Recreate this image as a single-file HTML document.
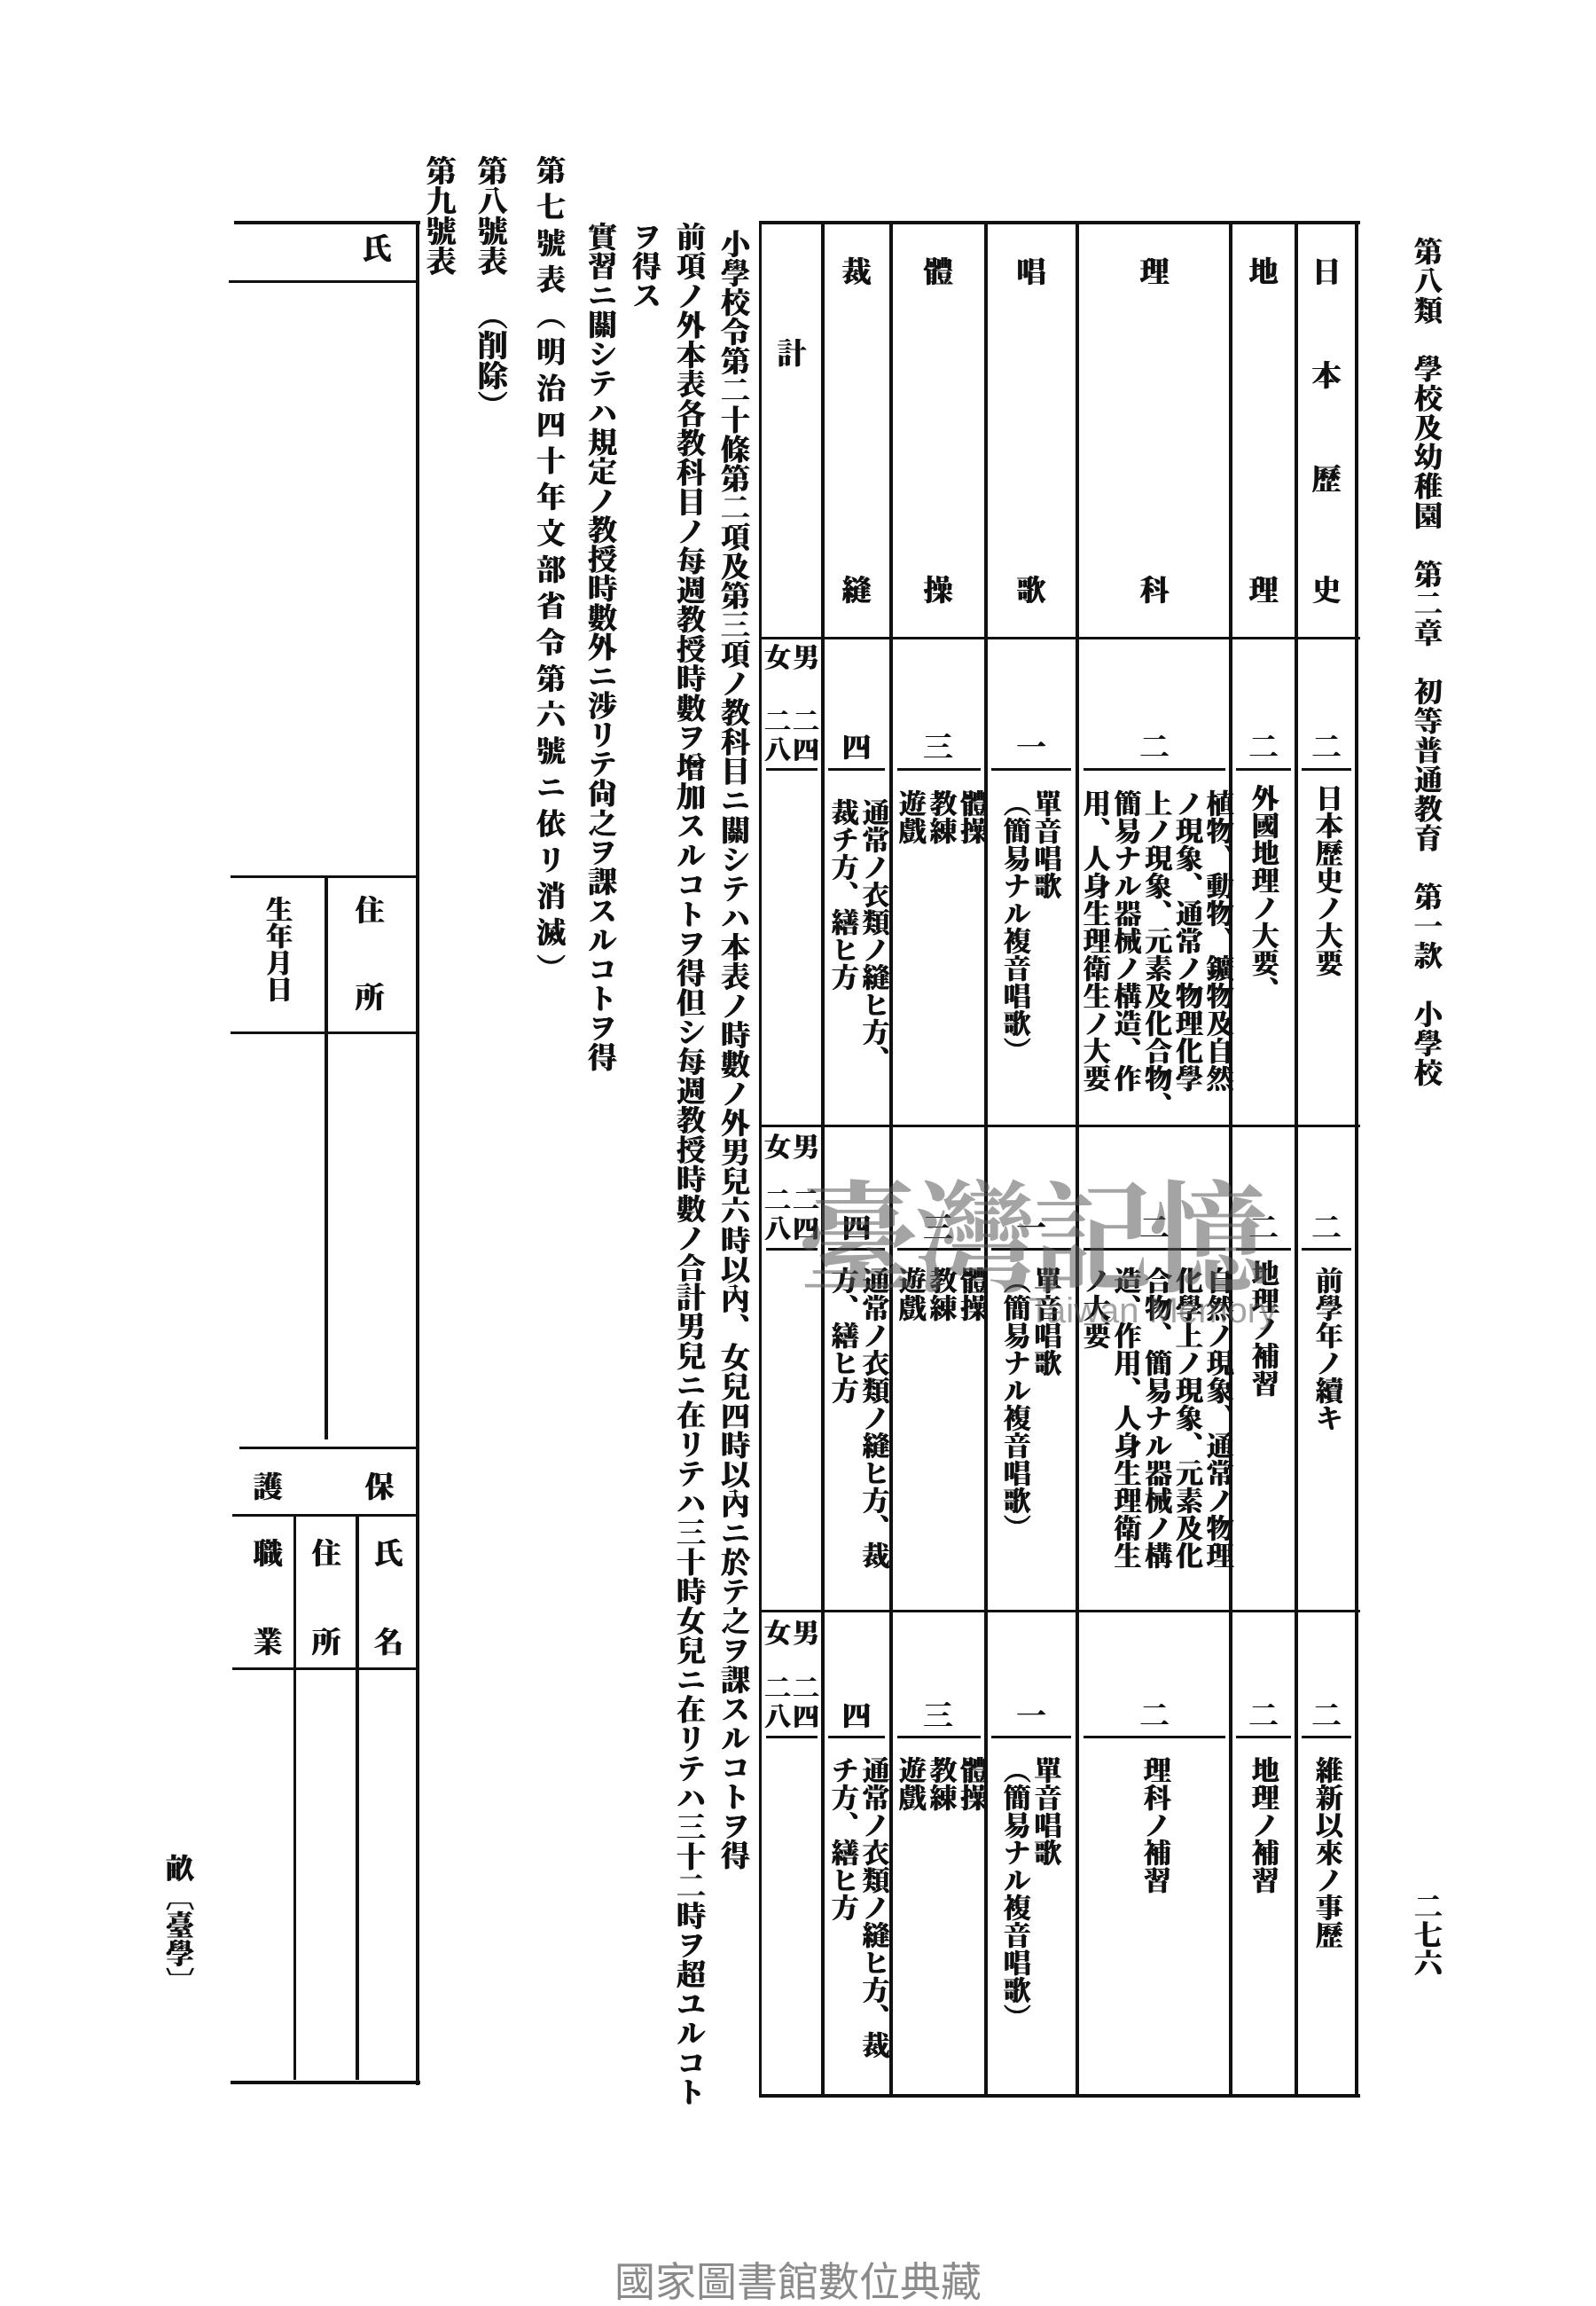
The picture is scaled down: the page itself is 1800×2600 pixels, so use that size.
<!DOCTYPE html>
<html><head><meta charset="utf-8"><style>
html,body{margin:0;padding:0;background:#fff;}
body{width:1800px;height:2600px;position:relative;overflow:hidden;font-family:"Liberation Serif","Noto Serif CJK JP","Noto Serif CJK SC",serif;color:#111;}
.v{position:absolute;writing-mode:vertical-rl;font-weight:700;font-size:31px;line-height:1.12;white-space:nowrap;text-shadow:0.7px 0 0 #111,-0.5px 0 0 #111;}
.j{text-align:justify;text-align-last:justify;white-space:normal;}
.h{position:absolute;background:#111;height:4px;}
.w{position:absolute;background:#111;width:4px;}
.c{position:absolute;font-weight:700;font-size:33px;line-height:1;width:40px;text-align:center;text-shadow:0.7px 0 0 #111,-0.5px 0 0 #111;}
</style></head><body>

<div class="v j" style="left:1590px;top:267px;height:958px;font-size:32px;">第八類　學校及幼稚園　第二章　初等普通教育　第一款　小學校</div>
<div class="v" style="left:1590px;top:2133px;font-size:32px;">二七六</div>

<div class="h" style="left:856px;top:249px;width:678px;"></div>
<div class="h" style="left:856px;top:718px;width:678px;height:3px;"></div>
<div class="h" style="left:856px;top:1268px;width:678px;height:3px;"></div>
<div class="h" style="left:856px;top:1815px;width:678px;height:3px;"></div>
<div class="h" style="left:856px;top:2361px;width:678px;"></div>
<div class="w" style="left:856px;top:249px;height:2116px;width:3px;"></div>
<div class="w" style="left:926px;top:249px;height:2116px;"></div>
<div class="w" style="left:1003px;top:249px;height:2116px;"></div>
<div class="w" style="left:1110px;top:249px;height:2116px;"></div>
<div class="w" style="left:1213px;top:249px;height:2116px;"></div>
<div class="w" style="left:1386px;top:249px;height:2116px;"></div>
<div class="w" style="left:1460px;top:249px;height:2116px;"></div>
<div class="w" style="left:1528px;top:249px;height:2116px;"></div>

<div class="h" style="left:864px;top:866px;width:58px;height:3px;"></div>
<div class="h" style="left:934px;top:866px;width:64px;height:3px;"></div>
<div class="h" style="left:1012px;top:866px;width:94px;height:3px;"></div>
<div class="h" style="left:1118px;top:866px;width:90px;height:3px;"></div>
<div class="h" style="left:1222px;top:866px;width:160px;height:3px;"></div>
<div class="h" style="left:1394px;top:866px;width:62px;height:3px;"></div>
<div class="h" style="left:1468px;top:866px;width:56px;height:3px;"></div>

<div class="h" style="left:864px;top:1407px;width:58px;height:3px;"></div>
<div class="h" style="left:934px;top:1407px;width:64px;height:3px;"></div>
<div class="h" style="left:1012px;top:1407px;width:94px;height:3px;"></div>
<div class="h" style="left:1118px;top:1407px;width:90px;height:3px;"></div>
<div class="h" style="left:1222px;top:1407px;width:160px;height:3px;"></div>
<div class="h" style="left:1394px;top:1407px;width:62px;height:3px;"></div>
<div class="h" style="left:1468px;top:1407px;width:56px;height:3px;"></div>

<div class="h" style="left:864px;top:1957px;width:58px;height:3px;"></div>
<div class="h" style="left:934px;top:1957px;width:64px;height:3px;"></div>
<div class="h" style="left:1012px;top:1957px;width:94px;height:3px;"></div>
<div class="h" style="left:1118px;top:1957px;width:90px;height:3px;"></div>
<div class="h" style="left:1222px;top:1957px;width:160px;height:3px;"></div>
<div class="h" style="left:1394px;top:1957px;width:62px;height:3px;"></div>
<div class="h" style="left:1468px;top:1957px;width:56px;height:3px;"></div>

<div class="c" style="left:1476px;top:292px;">日</div>
<div class="c" style="left:1476px;top:409px;">本</div>
<div class="c" style="left:1476px;top:526px;">歷</div>
<div class="c" style="left:1476px;top:651px;">史</div>
<div class="c" style="left:1405px;top:292px;">地</div>
<div class="c" style="left:1405px;top:651px;">理</div>
<div class="c" style="left:1282px;top:292px;">理</div>
<div class="c" style="left:1282px;top:651px;">科</div>
<div class="c" style="left:1143px;top:292px;">唱</div>
<div class="c" style="left:1143px;top:651px;">歌</div>
<div class="c" style="left:1038px;top:292px;">體</div>
<div class="c" style="left:1038px;top:651px;">操</div>
<div class="c" style="left:946px;top:292px;">裁</div>
<div class="c" style="left:946px;top:651px;">縫</div>
<div class="c" style="left:873px;top:384px;">計</div>

<div class="c" style="left:892px;top:728px;font-size:30px;width:34px;">男</div>
<div class="c" style="left:860px;top:728px;font-size:30px;width:34px;">女</div>
<div class="c" style="left:892px;top:800px;font-size:30px;width:34px;">二</div>
<div class="c" style="left:860px;top:800px;font-size:30px;width:34px;">二</div>
<div class="c" style="left:892px;top:832px;font-size:30px;width:34px;">四</div>
<div class="c" style="left:860px;top:832px;font-size:30px;width:34px;">八</div>

<div class="c" style="left:892px;top:1280px;font-size:30px;width:34px;">男</div>
<div class="c" style="left:860px;top:1280px;font-size:30px;width:34px;">女</div>
<div class="c" style="left:892px;top:1340px;font-size:30px;width:34px;">二</div>
<div class="c" style="left:860px;top:1340px;font-size:30px;width:34px;">二</div>
<div class="c" style="left:892px;top:1372px;font-size:30px;width:34px;">四</div>
<div class="c" style="left:860px;top:1372px;font-size:30px;width:34px;">八</div>

<div class="c" style="left:892px;top:1828px;font-size:30px;width:34px;">男</div>
<div class="c" style="left:860px;top:1828px;font-size:30px;width:34px;">女</div>
<div class="c" style="left:892px;top:1890px;font-size:30px;width:34px;">二</div>
<div class="c" style="left:860px;top:1890px;font-size:30px;width:34px;">二</div>
<div class="c" style="left:892px;top:1922px;font-size:30px;width:34px;">四</div>
<div class="c" style="left:860px;top:1922px;font-size:30px;width:34px;">八</div>

<div class="c" style="left:1476px;top:828px;">二</div>
<div class="c" style="left:1405px;top:828px;">二</div>
<div class="c" style="left:1282px;top:828px;">二</div>
<div class="c" style="left:1143px;top:828px;">一</div>
<div class="c" style="left:1038px;top:828px;">三</div>
<div class="c" style="left:946px;top:828px;">四</div>

<div class="c" style="left:1476px;top:1370px;">二</div>
<div class="c" style="left:1405px;top:1370px;">二</div>
<div class="c" style="left:1282px;top:1370px;">二</div>
<div class="c" style="left:1143px;top:1370px;">一</div>
<div class="c" style="left:1038px;top:1370px;">三</div>
<div class="c" style="left:946px;top:1370px;">四</div>

<div class="c" style="left:1476px;top:1920px;">二</div>
<div class="c" style="left:1405px;top:1920px;">二</div>
<div class="c" style="left:1282px;top:1920px;">二</div>
<div class="c" style="left:1143px;top:1920px;">一</div>
<div class="c" style="left:1038px;top:1920px;">三</div>
<div class="c" style="left:946px;top:1920px;">四</div>

<div class="v" style="left:1478px;top:884px;">日本歷史ノ大要</div>
<div class="v" style="left:1406px;top:884px;">外國地理ノ大要、</div>
<div class="v" style="left:1216px;top:890px;">植物、動物、鑛物及自然<br>ノ現象、通常ノ物理化學<br>上ノ現象、元素及化合物、<br>簡易ナル器械ノ構造、作<br>用、人身生理衛生ノ大要</div>
<div class="v" style="left:1126px;top:890px;">單音唱歌<br>（簡易ナル複音唱歌）</div>
<div class="v" style="left:1008px;top:890px;">體操<br>教練<br>遊戲</div>
<div class="v" style="left:932px;top:900px;">通常ノ衣類ノ縫ヒ方、<br>裁チ方、繕ヒ方</div>

<div class="v" style="left:1478px;top:1428px;">前學年ノ續キ</div>
<div class="v" style="left:1406px;top:1420px;">地理ノ補習</div>
<div class="v" style="left:1216px;top:1428px;">自然ノ現象、通常ノ物理<br>化學上ノ現象、元素及化<br>合物、簡易ナル器械ノ構<br>造、作用、人身生理衛生<br>ノ大要</div>
<div class="v" style="left:1126px;top:1428px;">單音唱歌<br>（簡易ナル複音唱歌）</div>
<div class="v" style="left:1008px;top:1428px;">體操<br>教練<br>遊戲</div>
<div class="v" style="left:932px;top:1428px;">通常ノ衣類ノ縫ヒ方、裁<br>方、繕ヒ方</div>

<div class="v" style="left:1478px;top:1980px;">維新以來ノ事歷</div>
<div class="v" style="left:1406px;top:1980px;">地理ノ補習</div>
<div class="v" style="left:1284px;top:1980px;">理科ノ補習</div>
<div class="v" style="left:1126px;top:1980px;">單音唱歌<br>（簡易ナル複音唱歌）</div>
<div class="v" style="left:1008px;top:1980px;">體操<br>教練<br>遊戲</div>
<div class="v" style="left:932px;top:1980px;">通常ノ衣類ノ縫ヒ方、裁<br>チ方、繕ヒ方</div>

<div style="position:absolute;left:900px;top:1318px;font-size:136px;line-height:1;color:rgba(90,90,90,0.55);font-family:'Noto Serif CJK SC',serif;font-weight:700;letter-spacing:-4px;">臺灣記憶</div>
<div style="position:absolute;left:1160px;top:1458px;font-size:40px;line-height:1;color:rgba(90,90,90,0.55);font-family:'Liberation Sans',sans-serif;">Taiwan Memory</div>

<div class="v j" style="left:807px;top:258px;height:1850px;font-size:33px;">小學校令第二十條第二項及第三項ノ教科目ニ關シテハ本表ノ時數ノ外男兒六時以內、女兒四時以內ニ於テ之ヲ課スルコトヲ得</div>
<div class="v j" style="left:757px;top:250px;height:2125px;font-size:33px;">前項ノ外本表各教科目ノ每週教授時數ヲ增加スルコトヲ得但シ每週教授時數ノ合計男兒ニ在リテハ三十時女兒ニ在リテハ三十二時ヲ超ユルコト</div>
<div class="v" style="left:707px;top:250px;font-size:33px;">ヲ得ス</div>
<div class="v j" style="left:657px;top:250px;height:958px;font-size:33px;">實習ニ關シテハ規定ノ教授時數外ニ涉リテ尙之ヲ課スルコトヲ得</div>
<div class="v j" style="left:599px;top:175px;height:933px;font-size:33px;">第七號表（明治四十年文部省令第六號ニ依リ消滅）</div>
<div class="v" style="left:532px;top:175px;font-size:34px;">第八號表</div>
<div class="v" style="left:532px;top:338px;font-size:34px;">（削除）</div>
<div class="v" style="left:474px;top:175px;font-size:34px;">第九號表</div>

<div class="h" style="left:264px;top:249px;width:210px;"></div>
<div class="h" style="left:258px;top:316px;width:212px;height:3px;"></div>
<div class="w" style="left:469px;top:249px;height:2102px;width:4px;"></div>
<div class="c" style="left:405px;top:266px;">氏</div>
<div class="h" style="left:260px;top:987px;width:210px;height:3px;"></div>
<div class="w" style="left:366px;top:987px;height:636px;"></div>
<div class="c" style="left:397px;top:1012px;">住</div>
<div class="c" style="left:397px;top:1110px;">所</div>
<div class="v" style="left:296px;top:1010px;font-size:30px;line-height:1;">生年月日</div>
<div class="h" style="left:260px;top:1163px;width:210px;height:3px;"></div>
<div class="h" style="left:270px;top:1631px;width:200px;height:3px;"></div>
<div class="c" style="left:408px;top:1662px;">保</div>
<div class="c" style="left:282px;top:1662px;">護</div>
<div class="h" style="left:262px;top:1707px;width:208px;height:3px;"></div>
<div class="w" style="left:401px;top:1707px;height:638px;width:4px;"></div>
<div class="w" style="left:331px;top:1707px;height:638px;width:3px;"></div>
<div class="c" style="left:418px;top:1737px;">氏</div>
<div class="c" style="left:348px;top:1737px;">住</div>
<div class="c" style="left:348px;top:1837px;">所</div>
<div class="c" style="left:418px;top:1837px;">名</div>
<div class="c" style="left:282px;top:1737px;">職</div>
<div class="c" style="left:282px;top:1837px;">業</div>
<div class="h" style="left:262px;top:1880px;width:208px;height:3px;"></div>
<div class="h" style="left:260px;top:2346px;width:214px;"></div>
<div class="v" style="left:185px;top:2090px;font-size:32px;line-height:1;">畝〔臺學〕</div>

<div style="position:absolute;left:0;width:1800px;top:2550px;text-align:center;font-size:46px;line-height:1;color:#8a8a8a;font-family:'Liberation Sans','Noto Sans CJK TC',sans-serif;">國家圖書館數位典藏</div>
</body></html>
